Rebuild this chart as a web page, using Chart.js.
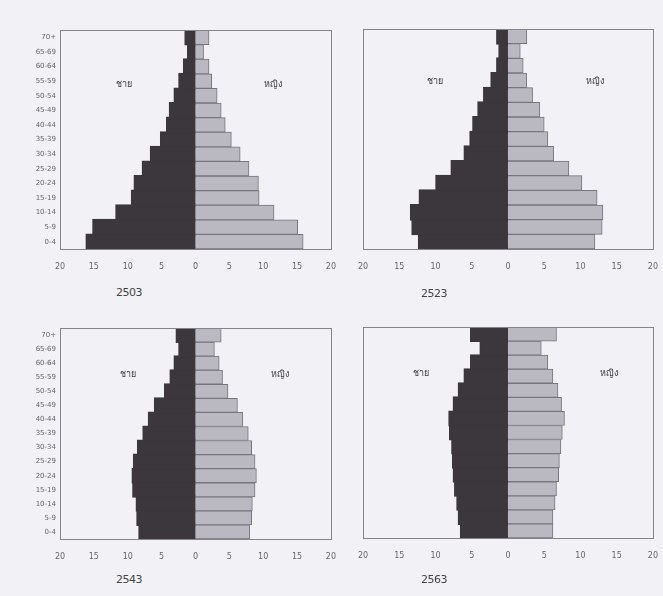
<!DOCTYPE html>
<html>
<head>
<meta charset="utf-8">
<script src="https://cdn.jsdelivr.net/npm/chart.js@4/dist/chart.umd.min.js"></script>
<style>
  body { margin: 0; background: #f2f1f6; width: 663px; height: 596px; position: relative; overflow: hidden; }
  .panel { position: absolute; }
  .year { position: absolute; font-family: "DejaVu Sans", sans-serif; font-size: 11px; color: #444; letter-spacing: -0.5px; }
</style>
</head>
<body>
<div class="panel" style="left:0px;top:20px;width:349px;height:262px"><canvas id="c1"></canvas></div>
<div class="panel" style="left:330px;top:20px;width:341px;height:262px"><canvas id="c2"></canvas></div>
<div class="panel" style="left:0px;top:310px;width:349px;height:262px"><canvas id="c3"></canvas></div>
<div class="panel" style="left:330px;top:310px;width:341px;height:262px"><canvas id="c4"></canvas></div>
<div class="year" style="left:116px;top:286px">2503</div>
<div class="year" style="left:421px;top:287px">2523</div>
<div class="year" style="left:116px;top:573px">2543</div>
<div class="year" style="left:421px;top:573px">2563</div>
<script>
// age groups, bottom to top
var ageGroups = ["0-4","5-9","10-14","15-19","20-24","25-29","30-34","35-39","40-44","45-49","50-54","55-59","60-64","65-69","70+"];
var years = ["2503","2523","2543","2563"];
var xTicks = [-20,-15,-10,-5,0,5,10,15,20];

// percent of population
var male2503   = [16.1,15.1,11.7,9.4,9.0,7.8,6.6,5.1,4.2,3.8,3.1,2.4,1.7,1.1,1.5];
var female2503 = [15.9,15.1,11.6,9.4,9.3,7.9,6.6,5.3,4.4,3.8,3.2,2.4,2.0,1.2,2.0];
var male2523   = [12.3,13.2,13.4,12.2,9.9,7.8,6.0,5.2,4.8,4.1,3.3,2.3,1.5,1.2,1.5];
var female2523 = [12.0,13.0,13.1,12.3,10.2,8.4,6.3,5.5,5.0,4.4,3.4,2.6,2.1,1.7,2.6];
var male2543   = [8.3,8.6,8.7,9.2,9.3,9.1,8.5,7.7,6.9,6.0,4.5,3.7,3.1,2.4,2.8];
var female2543 = [8.0,8.3,8.4,8.8,9.0,8.8,8.3,7.8,7.0,6.2,4.8,4.0,3.5,2.8,3.8];
var male2563   = [6.5,6.8,7.0,7.3,7.5,7.6,7.7,8.0,8.1,7.5,6.8,6.0,5.1,3.8,5.1];
var female2563 = [6.2,6.2,6.5,6.7,7.0,7.1,7.3,7.5,7.8,7.4,6.9,6.2,5.5,4.6,6.7];

var maleLabel = "ชาย";
var femaleLabel = "หญิง";

// box round the plot + the two side labels
const boxPlugin = {
  id: 'box',
  afterDraw(chart, args, opts) {
    const a = chart.chartArea;
    const c = chart.ctx;
    const xs = chart.scales.x;
    c.save();
    c.strokeStyle = '#85848c';
    c.lineWidth = 1;
    c.strokeRect(Math.round(a.left) + 0.5, Math.round(a.top) + 0.5, Math.round(a.right - a.left), Math.round(a.bottom - a.top));
    c.fillStyle = '#3a383e';
    c.font = '9px "Noto Sans", sans-serif';
    c.textAlign = 'center';
    c.textBaseline = 'middle';
    const y = a.top + (a.bottom - a.top) * opts.row;
    c.fillText(maleLabel, xs.getPixelForValue(opts.maleAt), y);
    c.fillText(femaleLabel, xs.getPixelForValue(opts.femaleAt), y);
    c.restore();
  }
};

function makePyramid(id, male, female, showAges, pad, labelPos) {
  const ctx = document.getElementById(id);
  return new Chart(ctx, {
    type: 'bar',
    data: {
      labels: ageGroups,
      datasets: [{
        label: maleLabel,
        data: male.map(function(v) { return -v; }),
        backgroundColor: '#3b373d',
        borderColor: '#3b373d',
        borderWidth: 1,
        inflateAmount: 1,
        barPercentage: 1,
        categoryPercentage: 1
      }, {
        label: femaleLabel,
        data: female,
        backgroundColor: '#bab8c0',
        borderColor: '#77757d',
        borderWidth: 1,
        barPercentage: 1,
        categoryPercentage: 1
      }]
    },
    options: {
      indexAxis: 'y',
      responsive: true,
      maintainAspectRatio: false,
      animation: false,
      layout: { padding: pad },
      plugins: {
        legend: { display: false },
        tooltip: { enabled: false },
        box: labelPos
      },
      scales: {
        x: {
          stacked: true,
          min: -20, max: 20,
          afterBuildTicks: function(s) { s.ticks = xTicks.map(function(v) { return { value: v }; }); },
          grid: { display: false, drawTicks: false },
          border: { display: false },
          ticks: {
            padding: 13,
            color: '#66656c',
            font: { size: 8, family: 'DejaVu Sans' },
            callback: function(v) { return Math.abs(v); }
          },
          afterFit: function(s) { s.height = 24; }
        },
        y: {
          stacked: true,
          reverse: true,
          grid: { display: false, drawTicks: false },
          border: { display: false },
          ticks: {
            display: showAges,
            padding: 4,
            color: '#66656c',
            font: { size: 7, family: 'DejaVu Sans' }
          },
          afterFit: function(s) { s.width = showAges ? 60 : 33; }
        }
      }
    },
    plugins: [boxPlugin]
  });
}

makePyramid('c1', male2503, female2503, true,  { top: 10, right: 8, bottom: 9, left: 0 }, { maleAt: -10.5, femaleAt: 11.5, row: 0.25 });
makePyramid('c2', male2523, female2523, false, { top: 9,  right: 8, bottom: 9, left: 0 }, { maleAt: -10,   femaleAt: 12,   row: 0.24 });
makePyramid('c3', male2543, female2543, true,  { top: 18, right: 8, bottom: 9, left: 0 }, { maleAt: -10,   femaleAt: 12.5, row: 0.22 });
makePyramid('c4', male2563, female2563, false, { top: 17, right: 8, bottom: 10, left: 0 }, { maleAt: -12,   femaleAt: 14,   row: 0.22 });
</script>
</body>
</html>
